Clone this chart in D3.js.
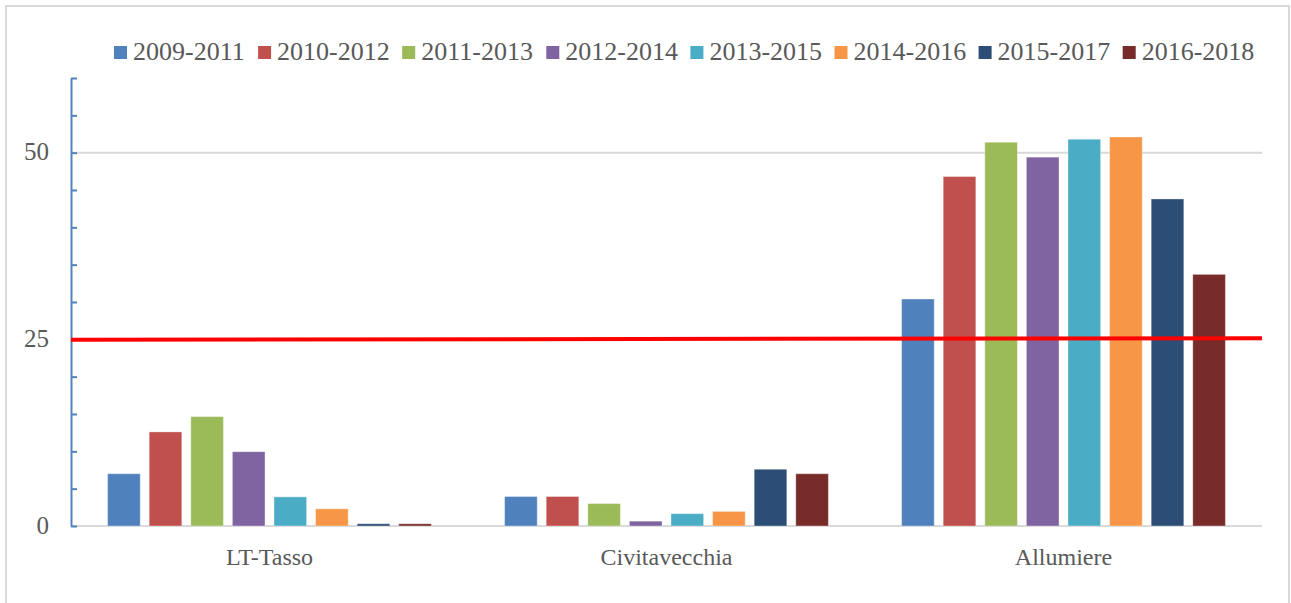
<!DOCTYPE html>
<html>
<head>
<meta charset="utf-8">
<script src="https://cdn.jsdelivr.net/npm/d3@7"></script>
<style>
  body { margin: 0; background: #fff; }
  svg { display: block; font-family: "Liberation Serif", serif; }
</style>
</head>
<body>
<div id="chart"></div>
<script>
var categories = ["LT-Tasso", "Civitavecchia", "Allumiere"];
var series = ["2009-2011", "2010-2012", "2011-2013", "2012-2014", "2013-2015", "2014-2016", "2015-2017", "2016-2018"];
var colors = ["#4f81bd", "#c0504d", "#9bbb59", "#8064a2", "#4bacc6", "#f79646", "#2c4d75", "#772c2a"];
// one array per category, in series order
var ltTasso = [7.0, 12.6, 14.65, 9.95, 3.9, 2.3, 0.3, 0.3];
var civitavecchia = [3.95, 3.95, 3.0, 0.65, 1.65, 1.95, 7.6, 7.0];
var allumiere = [30.4, 46.8, 51.4, 49.4, 51.8, 52.1, 43.8, 33.7];
var values = [ltTasso, civitavecchia, allumiere];
var yTicks = [0, 25, 50];
var threshold = [24.95, 25.15]; // red line, left and right end

var W = 1291, H = 603;
var plotL = 71, plotR = 1262, plotT = 78, plotB = 526;

var svg = d3.select("#chart").append("svg")
    .attr("width", W)
    .attr("height", H);

// outer frame
svg.append("rect")
    .attr("x", 6).attr("y", 6)
    .attr("width", 1283).attr("height", 610)
    .attr("fill", "none")
    .attr("stroke", "#d9d9d9")
    .attr("stroke-width", 2);

var y = d3.scaleLinear().domain([0, 60]).range([plotB, plotT]);
var x0 = d3.scaleBand().domain(categories).range([plotL, plotR]).padding(0);
var x1 = d3.scaleBand().domain(series).range([0, x0.bandwidth()])
    .paddingInner(0.216).paddingOuter(0.88);

// gridlines
svg.append("g")
    .selectAll("line")
    .data(yTicks)
    .join("line")
        .attr("x1", plotL).attr("x2", plotR)
        .attr("y1", d => y(d)).attr("y2", d => y(d))
        .attr("stroke", "#d9d9d9")
        .attr("stroke-width", 2);

// bars
var group = svg.append("g")
    .selectAll("g")
    .data(categories)
    .join("g")
    .attr("transform", d => "translate(" + x0(d) + ",0)");

group.selectAll("rect")
    .data((c, i) => values[i].map((v, j) => ({s: series[j], v: v, c: colors[j]})))
    .join("rect")
        .attr("x", d => x1(d.s))
        .attr("width", x1.bandwidth())
        .attr("y", d => y(d.v))
        .attr("height", d => y(0) - y(d.v))
        .attr("fill", d => d.c)
        .attr("stroke", "#fff")
        .attr("stroke-opacity", 0.35)
        .attr("stroke-width", 1);

// y axis, ticks pointing inward
var yAxis = svg.append("g")
    .attr("transform", "translate(" + plotL + ",0)")
    .call(d3.axisRight(y).tickValues(d3.range(0, 61, 5)).tickSize(6).tickSizeOuter(0).tickFormat(""));
yAxis.select(".domain").attr("stroke", "#4f81bd").attr("stroke-width", 2);
yAxis.selectAll(".tick line").attr("stroke", "#4f81bd").attr("stroke-width", 2);

svg.append("g")
    .selectAll("text")
    .data(yTicks)
    .join("text")
        .attr("x", 49)
        .attr("y", d => y(d))
        .attr("dy", "0.3em")
        .attr("text-anchor", "end")
        .attr("font-size", 25)
        .attr("fill", "#595959")
        .text(d => d);

// category labels
svg.append("g")
    .selectAll("text")
    .data(categories)
    .join("text")
        .attr("x", d => x0(d) + x0.bandwidth() / 2)
        .attr("y", 565)
        .attr("text-anchor", "middle")
        .attr("font-size", 24)
        .attr("fill", "#595959")
        .text(d => d);

// threshold line
svg.append("line")
    .attr("x1", plotL).attr("x2", plotR)
    .attr("y1", y(threshold[0])).attr("y2", y(threshold[1]))
    .attr("stroke", "#ff0000")
    .attr("stroke-width", 4);

// legend
var legend = svg.append("g")
    .selectAll("g")
    .data(series)
    .join("g")
    .attr("transform", (d, i) => "translate(" + (114 + i * 144.1) + ",46)");
legend.append("rect")
    .attr("width", 13).attr("height", 13)
    .attr("fill", (d, i) => colors[i]);
legend.append("text")
    .attr("x", 19)
    .attr("y", 14)
    .attr("font-size", 26)
    .attr("fill", "#595959")
    .text(d => d);
</script>
</body>
</html>
